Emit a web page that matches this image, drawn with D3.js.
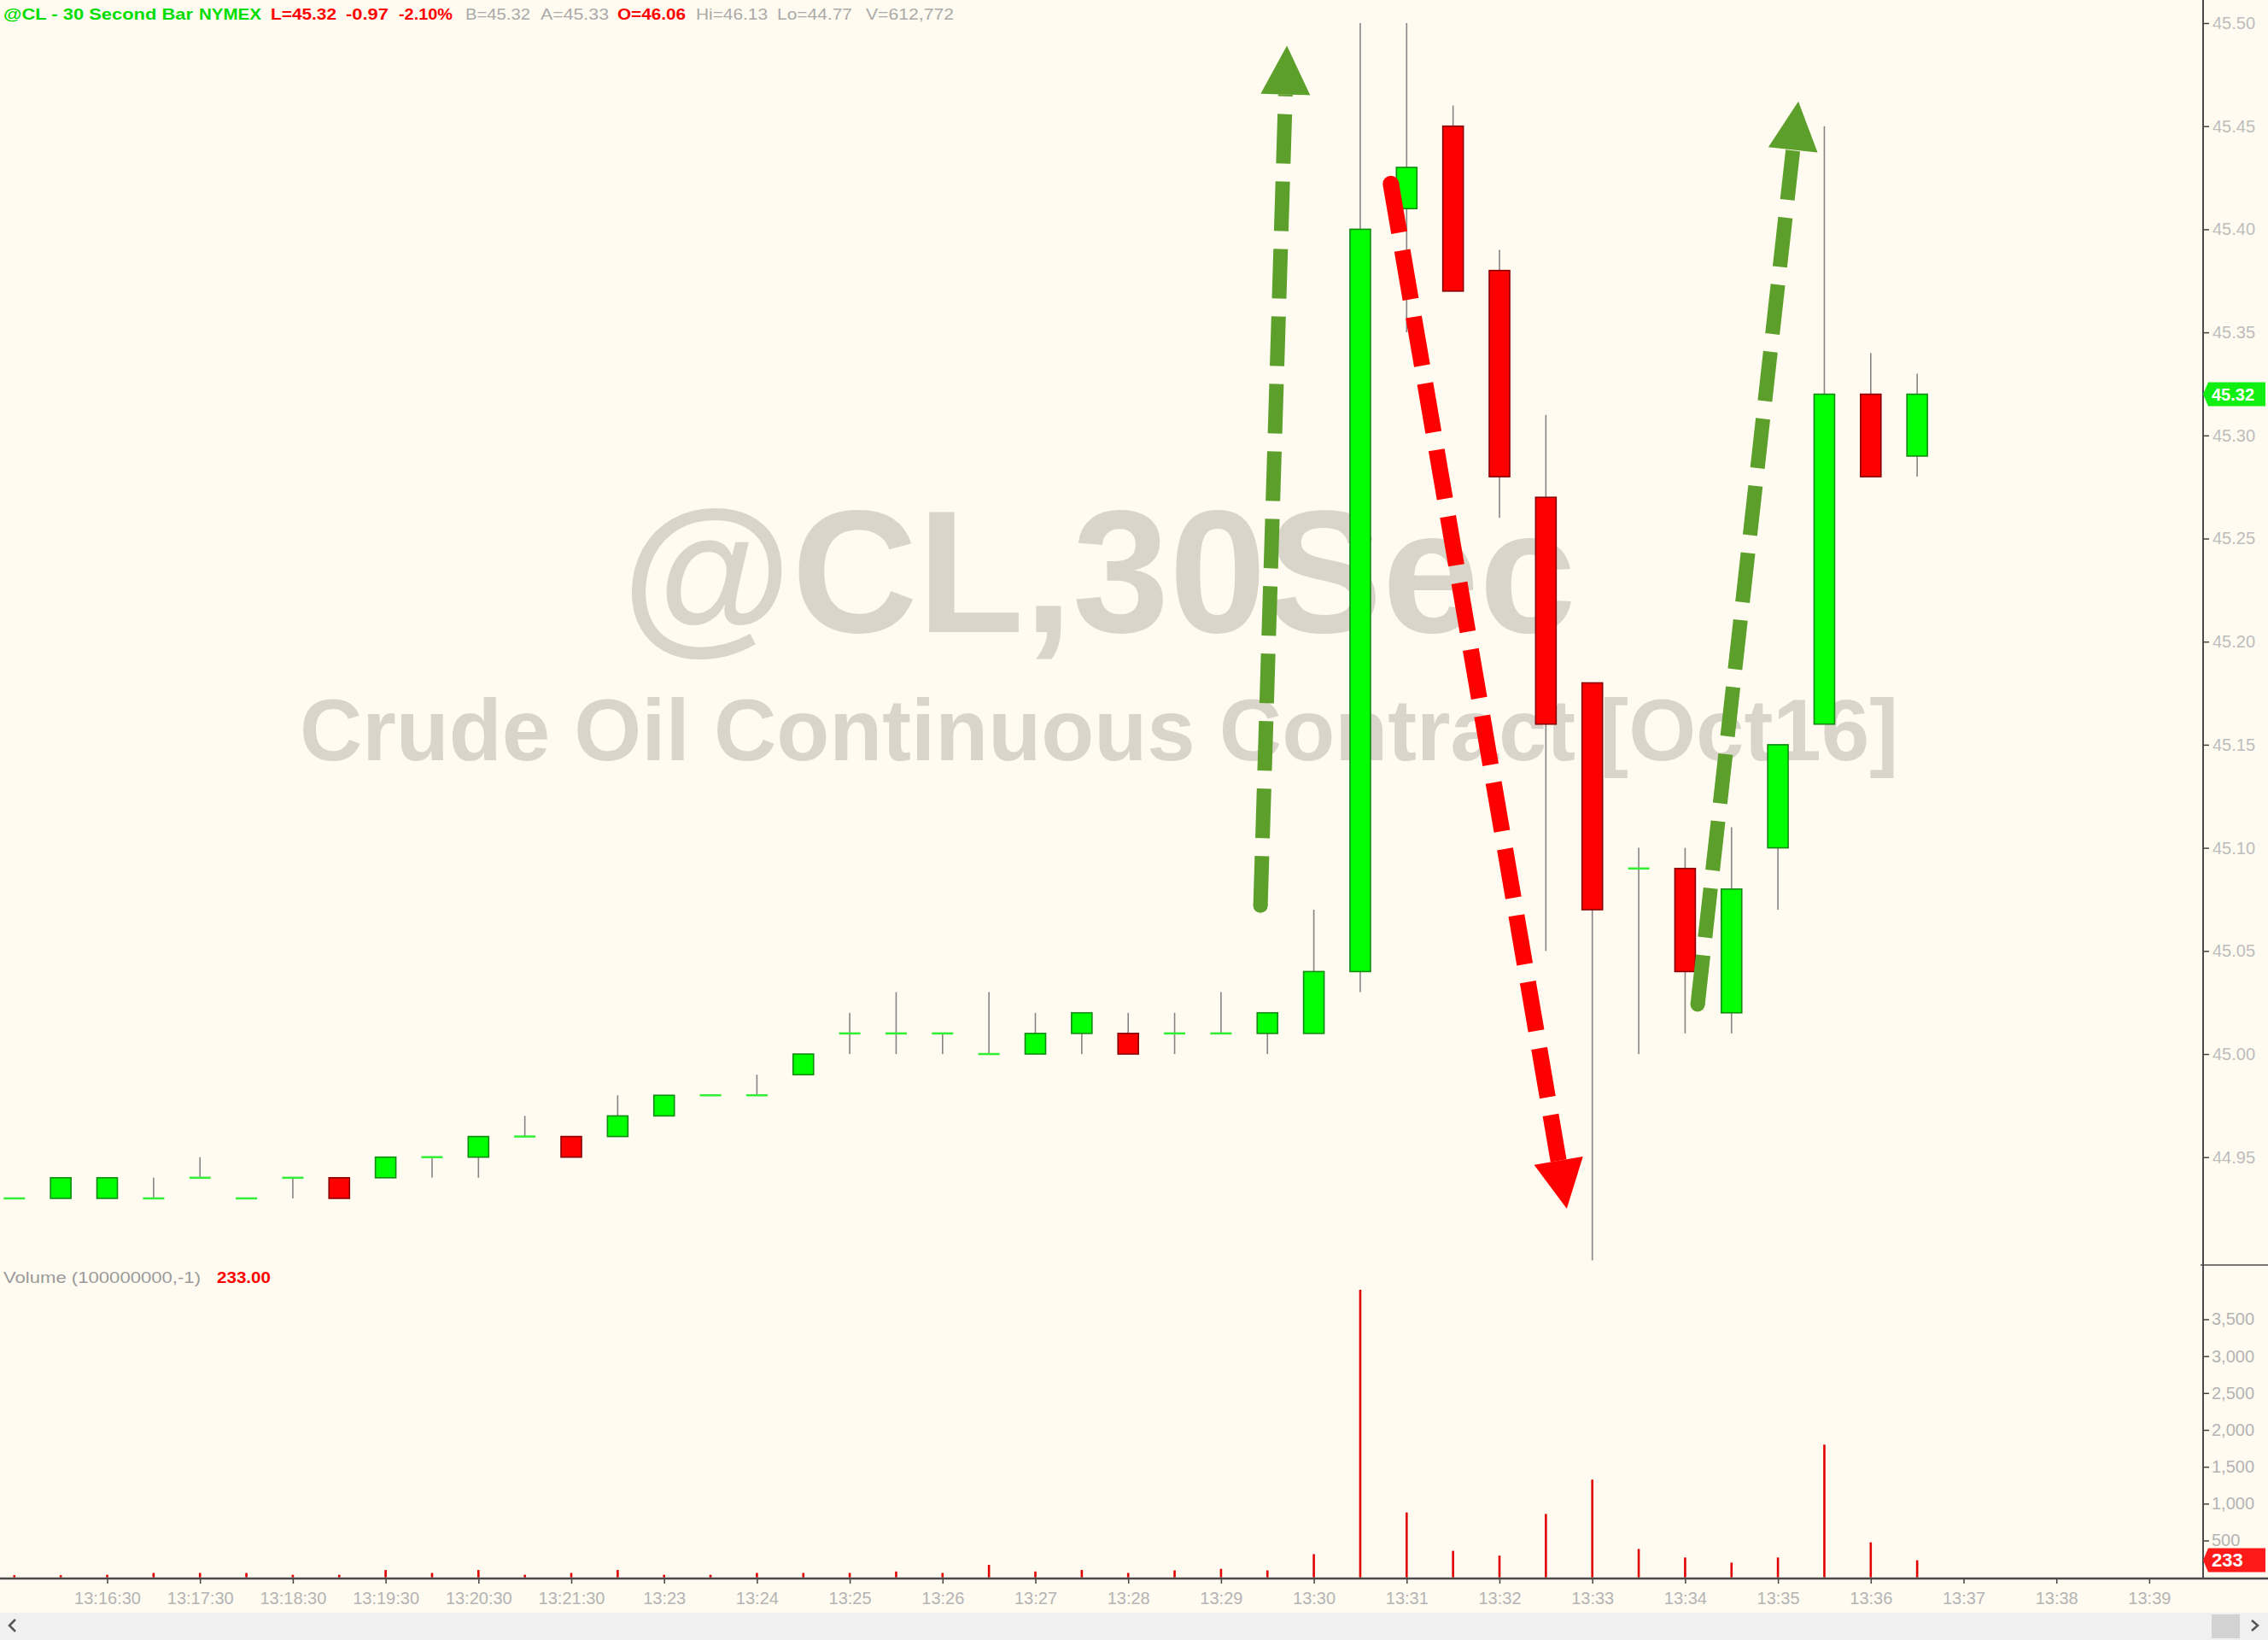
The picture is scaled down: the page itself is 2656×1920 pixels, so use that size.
<!DOCTYPE html>
<html>
<head>
<meta charset="utf-8">
<script src="https://cdn.jsdelivr.net/npm/d3@7"></script>
<style>
  html, body { margin: 0; padding: 0; background: #fffbf0; overflow: hidden; }
  svg { display: block; font-family: "Liberation Sans", Arial, sans-serif; }
</style>
</head>
<body>
<script>
// @CL 30 second bars (one bar missing between 13:21:30 and 13:23)
const times = ["13:15:30","13:16:00","13:16:30","13:17:00","13:17:30","13:18:00","13:18:30",
  "13:19:00","13:19:30","13:20:00","13:20:30","13:21:00","13:21:30","13:22:30","13:23:00",
  "13:23:30","13:24:00","13:24:30","13:25:00","13:25:30","13:26:00","13:26:30","13:27:00",
  "13:27:30","13:28:00","13:28:30","13:29:00","13:29:30","13:30:00","13:30:30","13:31:00",
  "13:31:30","13:32:00","13:32:30","13:33:00","13:33:30","13:34:00","13:34:30","13:35:00",
  "13:35:30","13:36:00","13:36:30"];
const opens  = [44.93,44.93,44.93,44.93,44.94,44.93,44.94,44.94,44.94,44.95,44.95,44.96,44.96,44.96,44.97,
  44.98,44.98,44.99,45.01,45.01,45.01,45.00,45.00,45.01,45.01,45.01,45.01,45.01,45.01,45.04,45.41,
  45.45,45.38,45.27,45.18,45.09,45.09,45.02,45.10,45.16,45.32,45.29];
const highs  = [44.93,44.94,44.94,44.94,44.95,44.93,44.94,44.94,44.95,44.95,44.96,44.97,44.96,44.98,44.98,
  44.98,44.99,45.00,45.02,45.03,45.01,45.03,45.02,45.02,45.02,45.02,45.03,45.02,45.07,45.50,45.50,
  45.46,45.39,45.31,45.18,45.10,45.10,45.11,45.15,45.45,45.34,45.33];
const lows   = [44.93,44.93,44.93,44.93,44.94,44.93,44.93,44.93,44.94,44.94,44.94,44.96,44.95,44.96,44.97,
  44.98,44.98,44.99,45.00,45.00,45.00,45.00,45.00,45.00,45.00,45.00,45.01,45.00,45.01,45.03,45.35,
  45.37,45.26,45.05,44.90,45.00,45.01,45.01,45.07,45.16,45.28,45.28];
const closes = [44.93,44.94,44.94,44.93,44.94,44.93,44.94,44.93,44.95,44.95,44.96,44.96,44.95,44.97,44.98,
  44.98,44.98,45.00,45.01,45.01,45.01,45.00,45.01,45.02,45.00,45.01,45.01,45.02,45.04,45.40,45.43,
  45.37,45.28,45.16,45.07,45.09,45.04,45.08,45.15,45.32,45.28,45.32];
const volumes = [30,30,35,60,60,60,35,35,100,60,100,35,60,100,35,35,60,60,60,80,60,170,80,100,60,
  95,115,95,315,3900,880,360,295,860,1325,385,270,200,270,1800,475,233];

// time axis: a tick every second bar, last three in the future
const timeTickIdx = [2,4,6,8,10,12,14,16,18,20,22,24,26,28,30,32,34,36,38,40,42,44,46];
const timeTickLabels = ["13:16:30","13:17:30","13:18:30","13:19:30","13:20:30","13:21:30","13:23",
  "13:24","13:25","13:26","13:27","13:28","13:29","13:30","13:31","13:32","13:33","13:34","13:35",
  "13:36","13:37","13:38","13:39"];
const priceTicks = [44.95,45.00,45.05,45.10,45.15,45.20,45.25,45.30,45.35,45.40,45.45,45.50];
const volTicks = [500,1000,1500,2000,2500,3000,3500];

// header quote line
const headerTexts = ["@CL - 30 Second Bar","NYMEX","L=45.32","-0.97","-2.10%","B=45.32","A=45.33",
  "O=46.06","Hi=46.13","Lo=44.77","V=612,772"];
const lastPrice = 45.32;
const lastVolume = 233;

// hand drawn arrows, in (bar index, price)
const arrowFrom = [[26.85,45.072],[29.66,45.422],[36.27,45.024]];
const arrowTo   = [[27.42,45.489],[33.45,44.925],[38.44,45.462]];

// ---- layout / styles ----
const W = 2656, H = 1920;
const axisX = 2580;
const baseY = 1848;
const green = "#00ff00", greenEdge = "#138a13", red = "#ff0000", redEdge = "#8a0000";
const headerColors = ["#00dd00","#00dd00","#ff0000","#ff0000","#ff0000","#aaaaaa","#aaaaaa",
  "#ff0000","#aaaaaa","#aaaaaa","#aaaaaa"];
const headerBold = [true,true,true,true,true,false,false,true,false,false,false];
const headerX = [4,233,317,405,467,545,633,723,815,910,1014];
const headerW = [222,73,77,50,63,76,80,80,84,88,103];
const arrowColors = ["#5c9f2a","#ff0000","#5c9f2a"];
const arrowWidths = [17,19,17];

const x = d3.scaleLinear().domain([0, 46]).range([16.8, 2516.9]);
const yP = d3.scaleLinear().domain([44.95, 45.50]).range([1354.7, 27]);
const yV = d3.scaleLinear().domain([0, 3500]).range([1846.7, 1544.5]);

const bars = times.map((t, i) => ({i: i, t: t, o: opens[i], h: highs[i], l: lows[i], c: closes[i], v: volumes[i]}));

const svg = d3.select('body').append('svg')
  .attr('width', W).attr('height', H);

svg.append('rect').attr('width', W).attr('height', H).attr('fill', '#fffbf0');

// watermark
const wm = svg.append('g').attr('fill', '#d9d5ca').attr('font-weight', 'bold').attr('text-anchor', 'middle');
wm.append('text').attr('x', 1287).attr('y', 740).attr('font-size', 204).text('@CL,30Sec');
wm.append('text').attr('x', 1287).attr('y', 890).attr('font-size', 101.5).text('Crude Oil Continuous Contract [Oct16]');

// wicks
svg.append('g').selectAll('line').data(bars.filter(d => d.h > d.l)).join('line')
  .attr('x1', d => x(d.i)).attr('x2', d => x(d.i))
  .attr('y1', d => yP(d.h)).attr('y2', d => yP(d.l))
  .attr('stroke', '#858585').attr('stroke-width', 1.6);

// candle bodies
svg.append('g').selectAll('rect').data(bars.filter(d => d.c !== d.o)).join('rect')
  .attr('x', d => x(d.i) - 12)
  .attr('width', 24)
  .attr('y', d => yP(Math.max(d.o, d.c)))
  .attr('height', d => Math.abs(yP(d.o) - yP(d.c)))
  .attr('fill', d => d.c > d.o ? green : red)
  .attr('stroke', d => d.c > d.o ? greenEdge : redEdge)
  .attr('stroke-width', 1.6);

// doji bars
svg.append('g').selectAll('line').data(bars.filter(d => d.c === d.o)).join('line')
  .attr('x1', d => x(d.i) - 12.5).attr('x2', d => x(d.i) + 12.5)
  .attr('y1', d => yP(d.c)).attr('y2', d => yP(d.c))
  .attr('stroke', '#33ee33').attr('stroke-width', 2.5);

// volume
svg.append('g').selectAll('line').data(bars).join('line')
  .attr('x1', d => x(d.i)).attr('x2', d => x(d.i))
  .attr('y1', yV(0)).attr('y2', d => yV(d.v))
  .attr('stroke', '#e00000').attr('stroke-width', 2.6);

// arrows
const arrows = arrowFrom.map((f, k) => {
  const x0 = x(f[0]), y0 = yP(f[1]), x1 = x(arrowTo[k][0]), y1 = yP(arrowTo[k][1]);
  const len = Math.hypot(x1 - x0, y1 - y0);
  const ux = (x1 - x0) / len, uy = (y1 - y0) / len;
  return {x0, y0, x1, y1, ux, uy, color: arrowColors[k], w: arrowWidths[k]};
});
const headLen = 57, headHalf = 29;
const ag = svg.append('g');
arrows.forEach(a => {
  const bx = a.x1 - a.ux * headLen, by = a.y1 - a.uy * headLen;
  ag.append('path')
    .attr('d', d3.line()([[a.x0, a.y0], [bx, by]]))
    .attr('stroke', a.color).attr('stroke-width', a.w)
    .attr('stroke-dasharray', '58,21').attr('fill', 'none');
  ag.append('circle').attr('cx', a.x0).attr('cy', a.y0).attr('r', a.w / 2).attr('fill', a.color);
  ag.append('path')
    .attr('d', d3.line()([[a.x1, a.y1],
      [bx - a.uy * headHalf, by + a.ux * headHalf],
      [bx + a.uy * headHalf, by - a.ux * headHalf]]) + 'Z')
    .attr('fill', a.color);
});

// bottom time axis
const xAxis = svg.append('g').attr('transform', `translate(0,${baseY})`)
  .call(d3.axisBottom(x).tickValues(timeTickIdx).tickSize(6).tickPadding(10)
    .tickFormat((d, k) => timeTickLabels[k]));
xAxis.select('.domain').remove();
xAxis.selectAll('line').attr('stroke', '#444').attr('stroke-width', 1.5);
xAxis.selectAll('text').attr('fill', '#b4b4b4').attr('font-size', 20).attr('font-family', '"Liberation Sans", Arial, sans-serif');

// right price axis
const pAxis = svg.append('g').attr('transform', `translate(${axisX},0)`)
  .call(d3.axisRight(yP).tickValues(priceTicks).tickSize(7).tickPadding(4).tickFormat(d3.format('.2f')));
pAxis.select('.domain').remove();
pAxis.selectAll('line').attr('stroke', '#444').attr('stroke-width', 1.5);
pAxis.selectAll('text').attr('fill', '#bdbdbd').attr('font-size', 20).attr('font-family', '"Liberation Sans", Arial, sans-serif');

// right volume axis
const vAxis = svg.append('g').attr('transform', `translate(${axisX},0)`)
  .call(d3.axisRight(yV).tickValues(volTicks).tickSize(7).tickPadding(3).tickFormat(d3.format(',')));
vAxis.select('.domain').remove();
vAxis.selectAll('line').attr('stroke', '#444').attr('stroke-width', 1.5);
vAxis.selectAll('text').attr('fill', '#b4b4b4').attr('font-size', 20).attr('font-family', '"Liberation Sans", Arial, sans-serif');

// frame lines
svg.append('line').attr('x1', axisX).attr('x2', axisX).attr('y1', 0).attr('y2', baseY)
  .attr('stroke', '#4a4a4a').attr('stroke-width', 2);
svg.append('line').attr('x1', 0).attr('x2', W).attr('y1', baseY).attr('y2', baseY)
  .attr('stroke', '#4a4a4a').attr('stroke-width', 2.5);
svg.append('line').attr('x1', axisX - 3).attr('x2', W).attr('y1', 1481).attr('y2', 1481)
  .attr('stroke', '#4a4a4a').attr('stroke-width', 1.5);

// last price / last volume markers
function marker(yc, fill, label, size) {
  const g = svg.append('g');
  g.append('path')
    .attr('d', `M${axisX},${yc} L${axisX + 6},${yc - 14} L${W - 3},${yc - 14} L${W - 3},${yc + 14} L${axisX + 6},${yc + 14} Z`)
    .attr('fill', fill);
  g.append('text').attr('x', axisX + 10).attr('y', yc + 7)
    .attr('fill', '#fff').attr('font-size', size).attr('font-weight', 'bold').text(label);
}
marker(yP(lastPrice), '#11ee11', d3.format('.2f')(lastPrice), 20);
marker(yV(lastVolume), '#ff1a1a', String(lastVolume), 22);

// header
svg.append('g').selectAll('text').data(headerTexts).join('text')
  .attr('x', (d, k) => headerX[k]).attr('y', 23)
  .attr('font-size', 19)
  .attr('font-weight', (d, k) => headerBold[k] ? 'bold' : 'normal')
  .attr('textLength', (d, k) => headerW[k]).attr('lengthAdjust', 'spacingAndGlyphs')
  .attr('fill', (d, k) => headerColors[k])
  .text(d => d);

// volume title
svg.append('text').attr('x', 4).attr('y', 1502).attr('font-size', 19)
  .attr('textLength', 231).attr('lengthAdjust', 'spacingAndGlyphs')
  .attr('fill', '#9a9a9a').text('Volume (100000000,-1)');
svg.append('text').attr('x', 254).attr('y', 1502).attr('font-size', 19).attr('font-weight', 'bold')
  .attr('textLength', 63).attr('lengthAdjust', 'spacingAndGlyphs')
  .attr('fill', '#ff0000').text(d3.format('.2f')(lastVolume));

// scroll bar
svg.append('rect').attr('x', 0).attr('y', 1888).attr('width', W).attr('height', 32).attr('fill', '#f0f0f0');
svg.append('rect').attr('x', 2590).attr('y', 1890).attr('width', 33).attr('height', 28).attr('fill', '#d2d2d2');
svg.append('path').attr('d', 'M18,1896 L11,1903 L18,1910').attr('fill', 'none')
  .attr('stroke', '#555').attr('stroke-width', 2.5);
svg.append('path').attr('d', 'M2637,1897 L2644,1903 L2637,1909').attr('fill', 'none')
  .attr('stroke', '#555').attr('stroke-width', 2.5);
</script>
</body>
</html>
